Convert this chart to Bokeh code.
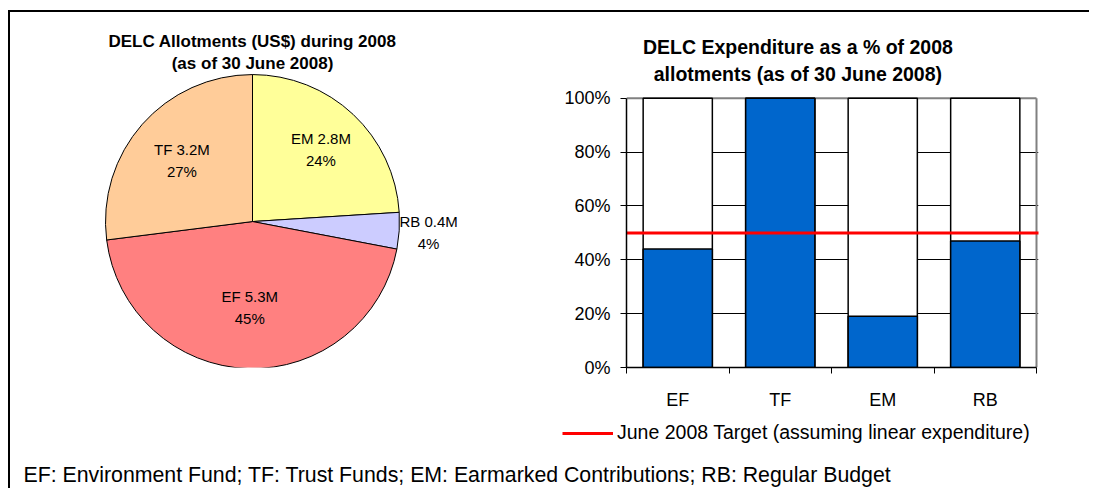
import numpy as np
from bokeh.plotting import figure
from bokeh.layouts import row, column
from bokeh.models import (ColumnDataSource, Range1d, Label, Legend, LegendItem,
                          FixedTicker, PrintfTickFormatter)
from bokeh.core.properties import value
from bokeh.embed import file_html
from bokeh.resources import INLINE

# ---------------- data ----------------
# pie: slices clockwise from 12 o'clock
pie_codes = ["EM", "RB", "EF", "TF"]
pie_amounts = ["2.8M", "0.4M", "5.3M", "3.2M"]
pie_shares = [24, 4, 45, 27]
pie_colors = ["#FFFF99", "#CCCCFF", "#FF8080", "#FFCC99"]

# bars: expenditure as % of allotment
bar_cats = ["EF", "TF", "EM", "RB"]
bar_spent = [44, 100, 19, 47]
bar_allot = [100, 100, 100, 100]
target = 50
y_ticks = [0, 20, 40, 60, 80, 100]

pie_title = ["DELC Allotments (US$) during 2008", "(as of 30 June 2008)"]
bar_title = ["DELC Expenditure as a % of 2008", "allotments (as of 30 June 2008)"]
legend_label = "June 2008 Target (assuming linear expenditure)"
footnote = "EF: Environment Fund; TF: Trust Funds; EM: Earmarked Contributions; RB: Regular Budget"

FONT = "Liberation Sans"

# ---------------- layout constants (pixels) ----------------
ROW_H = 400          # height of the two chart canvases
BOTTOM = 40          # shared bottom border (x axis)
PW, BW = 545, 534    # canvas widths
FL, FR = 71, 51      # bar chart left / right borders
FRAME_H = ROW_H - BOTTOM
BAR_TOP_PX = 87      # 100% line, px from canvas top
CAT_PX = 102.5       # px per category

# ---------------- pie ----------------
p1 = figure(width=PW, height=ROW_H, x_range=Range1d(0, PW), y_range=Range1d(BOTTOM, ROW_H),
            x_axis_type=None, y_axis_type=None, toolbar_location=None,
            output_backend="svg", min_border_left=0, min_border_right=0,
            min_border_top=0, min_border_bottom=BOTTOM)
p1.grid.visible = False
p1.outline_line_color = None
p1.background_fill_color = "white"
p1.border_fill_color = "white"

cx, cy, r = 242, ROW_H - 212, 147
frac = np.array(pie_shares, dtype=float) / sum(pie_shares)
cum = np.cumsum(frac)
before = cum - frac
start = np.pi / 2 - 2 * np.pi * before
end = np.pi / 2 - 2 * np.pi * cum
mid = np.pi / 2 - 2 * np.pi * (before + frac / 2)
label_r = np.array([0.68, 1.2, 0.59, 0.64])

pie_src = ColumnDataSource(dict(
    start=start, end=end, color=pie_colors,
    lx=cx + r * label_r * np.cos(mid), ly=cy + r * label_r * np.sin(mid),
    l1=[f"{c} {a}" for c, a in zip(pie_codes, pie_amounts)],
    l2=[f"{s}%" for s in pie_shares],
))
p1.wedge(x=cx, y=cy, radius=r, start_angle="start", end_angle="end", direction="clock",
         fill_color="color", line_color="black", line_width=1, source=pie_src)
p1.text(x="lx", y="ly", text="l1", y_offset=-11, text_align="center", text_baseline="middle",
        text_font=value(FONT), text_font_size="15px", text_color="black", source=pie_src)
p1.text(x="lx", y="ly", text="l2", y_offset=11, text_align="center", text_baseline="middle",
        text_font=value(FONT), text_font_size="15px", text_color="black", source=pie_src)
for i, t in enumerate(pie_title):
    p1.add_layout(Label(x=242, y=ROW_H - 29 - 22.5 * i, text=t, text_align="center",
                        text_baseline="middle", text_font=FONT, text_font_size="17px",
                        text_font_style="bold", text_color="black"))

# ---------------- bars ----------------
n = len(bar_cats)
ymax = max(y_ticks)
px_per_pct = (FRAME_H - BAR_TOP_PX) / ymax
frame_w = BW - FL - FR
p2 = figure(width=BW, height=ROW_H,
            x_range=Range1d(0, frame_w / CAT_PX), y_range=Range1d(0, FRAME_H / px_per_pct),
            toolbar_location=None, output_backend="svg",
            min_border_left=FL, min_border_right=FR, min_border_top=0, min_border_bottom=BOTTOM)
p2.background_fill_color = "white"
p2.border_fill_color = "white"
p2.outline_line_color = None

xs = np.arange(n) + 0.5
# plot-area border (top and right, grey)
p2.line(x=[0, n], y=[ymax, ymax], line_color="#808080", line_width=2)
p2.line(x=[n, n], y=[0, ymax], line_color="#808080", line_width=2)

p2.vbar(x=xs, width=0.675, bottom=0, top=bar_allot, fill_color="white",
        line_color="black", line_width=1.5)
p2.vbar(x=xs, width=0.675, bottom=0, top=bar_spent, fill_color="#0066CC",
        line_color="black", line_width=1.5)
p2.line(x=[0, n + 0.04], y=[target, target], line_color="#FF0000", line_width=3)

p2.xgrid.visible = False
p2.ygrid.ticker = FixedTicker(ticks=y_ticks[1:-1])
p2.ygrid.grid_line_color = "black"
p2.ygrid.grid_line_width = 1

ya = p2.yaxis[0]
ya.ticker = FixedTicker(ticks=y_ticks)
ya.bounds = (0, ymax)
ya.formatter = PrintfTickFormatter(format="%d%%")
ya.major_tick_out = 6
ya.major_tick_in = 0
ya.minor_tick_out = 0
ya.minor_tick_in = 0
ya.axis_line_color = "black"
ya.axis_line_width = 1.5
ya.major_tick_line_color = "black"
ya.major_label_text_font = FONT
ya.major_label_text_font_size = "18px"
ya.major_label_text_color = "black"
ya.major_label_standoff = 10

xa = p2.xaxis[0]
xa.ticker = FixedTicker(ticks=list(xs), minor_ticks=list(range(n + 1)))
xa.bounds = (0, n)
xa.major_label_overrides = {float(x): c for x, c in zip(xs, bar_cats)}
xa.major_tick_out = 0
xa.major_tick_in = 0
xa.minor_tick_out = 6
xa.minor_tick_in = 0
xa.minor_tick_line_color = "black"
xa.axis_line_color = "black"
xa.axis_line_width = 1.5
xa.major_label_text_font = FONT
xa.major_label_text_font_size = "18px"
xa.major_label_text_color = "black"
xa.major_label_standoff = 16

title_cx = 171.4 / CAT_PX
for i, t in enumerate(bar_title):
    dy_px = FRAME_H - 35 - 27.3 * i
    p2.add_layout(Label(x=title_cx, y=dy_px / px_per_pct, text=t, text_align="center",
                        text_baseline="middle", text_font=FONT, text_font_size="19.5px",
                        text_font_style="bold", text_color="black"))

# ---------------- legend + footnote strip ----------------
FW, FH = PW + BW, 76
p3 = figure(width=FW, height=FH, x_range=Range1d(0, FW), y_range=Range1d(0, FH),
            x_axis_type=None, y_axis_type=None, toolbar_location=None,
            output_backend="svg", min_border=0)
p3.grid.visible = False
p3.outline_line_color = None
p3.background_fill_color = "white"
p3.border_fill_color = "white"
# hidden copy of the target line, used only as the legend key
key = p3.line(x=[0, n], y=[target, target], line_color="#FF0000", line_width=3, visible=False)
legend = Legend(items=[LegendItem(label=legend_label, renderers=[key])],
                location=(552, 44), orientation="horizontal", click_policy="none",
                border_line_color=None, background_fill_alpha=0,
                padding=0, margin=0, spacing=0, glyph_width=51, glyph_height=20,
                label_height=20, label_standoff=4,
                label_text_font=FONT, label_text_font_size="19.5px", label_text_color="black")
p3.add_layout(legend)
p3.add_layout(Label(x=13, y=14, text=footnote, text_align="left", text_baseline="middle",
                    text_font=FONT, text_font_size="21.3px", text_color="black"))

layout = column(row(p1, p2), p3, margin=(10, 0, 0, 8),
                styles={"border-top": "2px solid black", "border-left": "2px solid black"})

open("out.html", "w").write(file_html(layout, INLINE))
